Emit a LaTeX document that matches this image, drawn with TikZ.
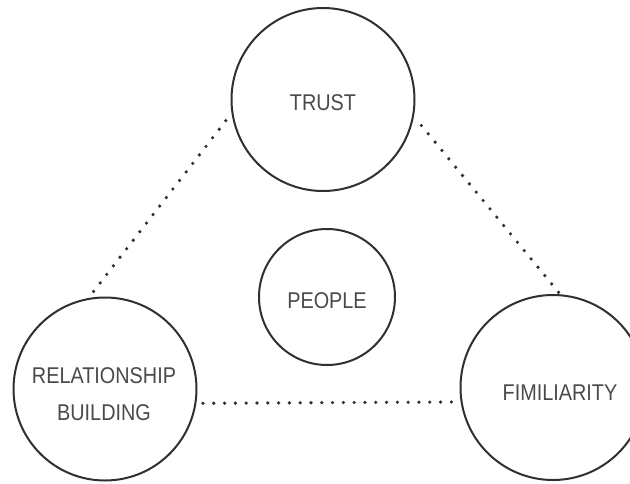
\documentclass[tikz,border=0pt]{standalone}
\usepackage{fontspec}
\setmainfont[FakeStretch=0.87]{Liberation Sans}
\definecolor{ink}{HTML}{303030}
\definecolor{txt}{HTML}{4A4A4A}
\begin{document}
\begin{tikzpicture}[x=1pt,y=-1pt,
  bubble/.style={circle,draw=ink,line width=2pt,inner sep=0pt,outer sep=0pt,fill=white},
  word/.style={text=txt,font=\fontsize{22.8}{37}\selectfont,align=center},
  dots/.style={draw=ink,line width=3.6pt,line cap=round,dash pattern=on 0pt off 10.8pt}]
\useasboundingbox (0,0) rectangle (630,483);
\node[bubble,minimum size=183pt,label={[word,yshift=-3.5pt]center:TRUST}] (trust) at (323,99.5) {};
\node[bubble,minimum size=136pt,label={[word,yshift=-4pt]center:PEOPLE}] (people) at (327,297) {};
\node[bubble,minimum size=183pt,label={[word,xshift=-1pt,yshift=-5pt]center:RELATIONSHIP\\BUILDING}] (rel) at (105,389) {};
\node[bubble,minimum size=185pt,label={[word,xshift=7pt,yshift=-5.5pt]center:FIMILIARITY}] (fimi) at (553,387.5) {};
\draw[dots,shorten <=10.7pt,shorten >=8pt] (trust.188.9) -- (rel.101.3);
\draw[dots,shorten <=13pt,shorten >=2.6pt] (trust.350.9) -- (fimi.85.3);
\draw[dots,shorten <=7.6pt] (rel.351) -- (fimi.189.8);
\end{tikzpicture}
\end{document}
